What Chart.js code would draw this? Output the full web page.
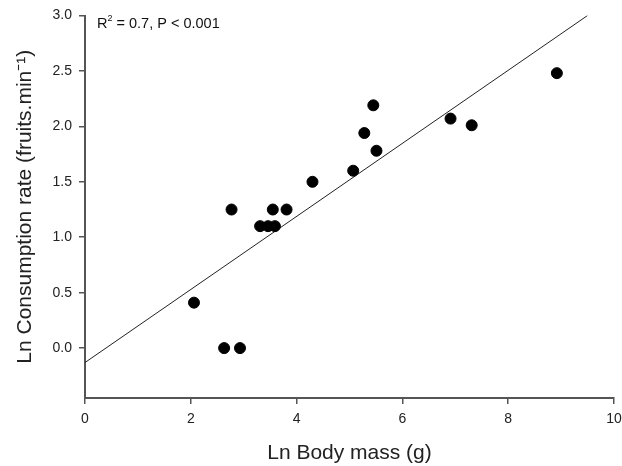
<!DOCTYPE html>
<html>
<head>
<meta charset="utf-8">
<script src="https://cdn.jsdelivr.net/npm/chart.js@4/dist/chart.umd.min.js"></script>
<style>
  html, body { margin: 0; padding: 0; background: #fff; }
  #wrap { width: 622px; height: 466px; }
</style>
</head>
<body>
<div id="wrap"><canvas id="scatterChart" width="622" height="466"></canvas></div>
<script>
// Ln body mass (g) vs Ln consumption rate (fruits/min)
const massX = [2.06, 2.63, 2.93, 2.77, 3.31, 3.46, 3.59, 3.55, 3.81, 4.30, 5.07, 5.28, 5.45, 5.51, 6.91, 7.31, 8.92];
const rateY = [0.41, 0.00, 0.00, 1.25, 1.10, 1.10, 1.10, 1.25, 1.25, 1.50, 1.60, 1.94, 2.19, 1.78, 2.07, 2.01, 2.48];

// regression line end points
const fitX = [0, 9.5];
const fitY = [-0.13, 3.0];

const xTicks = [0, 2, 4, 6, 8, 10];
const yTicks = [0, 0.5, 1.0, 1.5, 2.0, 2.5, 3.0];
const statsLabel = ['R', '2', ' = 0.7, P < 0.001'];

const FONT = '"Liberation Sans", Arial, sans-serif';

// draws the R^2 note in the top-left corner
const statsNote = {
    id: 'statsNote',
    afterDraw(chart) {
        const ctx = chart.ctx;
        const area = chart.chartArea;
        ctx.save();
        ctx.fillStyle = '#111';
        ctx.textBaseline = 'alphabetic';
        let x = area.left + 12;
        const y = area.top + 12;
        ctx.font = '14.5px ' + FONT;
        ctx.fillText(statsLabel[0], x, y);
        x += ctx.measureText(statsLabel[0]).width;
        ctx.font = '9px ' + FONT;
        ctx.fillText(statsLabel[1], x, y - 7);
        x += ctx.measureText(statsLabel[1]).width;
        ctx.font = '14.5px ' + FONT;
        ctx.fillText(statsLabel[2], x, y);
        ctx.restore();
    }
};

const ctx = document.getElementById('scatterChart').getContext('2d');
new Chart(ctx, {
    type: 'scatter',
    data: {
        datasets: [
            {
                label: 'Observed',
                data: massX.map((x, i) => ({ x: x, y: rateY[i] })),
                backgroundColor: '#000',
                borderColor: '#000',
                pointRadius: 5.5,
                pointHoverRadius: 5.5
            },
            {
                label: 'Fit',
                type: 'line',
                data: fitX.map((x, i) => ({ x: x, y: fitY[i] })),
                borderColor: '#222',
                borderWidth: 1,
                pointRadius: 0,
                fill: false
            }
        ]
    },
    options: {
        responsive: false,
        animation: false,
        layout: { padding: { left: 8, right: 8, top: 15.5, bottom: 0 } },
        plugins: {
            legend: { display: false },
            tooltip: { enabled: false }
        },
        scales: {
            x: {
                type: 'linear',
                min: 0,
                max: 10,
                afterBuildTicks: axis => { axis.ticks = xTicks.map(v => ({ value: v })); },
                afterFit: axis => { axis.height = 68; axis.paddingLeft = 0; axis.paddingRight = 0; },
                grid: { drawOnChartArea: false, drawTicks: true, tickLength: 6, color: '#555', lineWidth: 1.5 },
                border: { display: true, color: '#555', width: 2 },
                ticks: { color: '#222', font: { family: FONT, size: 14 }, padding: 7, maxRotation: 0 },
                title: { display: true, text: 'Ln Body mass (g)', color: '#222', font: { family: FONT, size: 21 }, padding: { top: 4, bottom: 0 } }
            },
            y: {
                type: 'linear',
                min: -0.45,
                max: 3.0,
                afterBuildTicks: axis => { axis.ticks = yTicks.map(v => ({ value: v })); },
                afterFit: axis => { axis.width = 77; axis.paddingTop = 0; axis.paddingBottom = 0; },
                grid: { drawOnChartArea: false, drawTicks: true, tickLength: 6, color: '#555', lineWidth: 1.5 },
                border: { display: true, color: '#555', width: 2 },
                ticks: { color: '#222', font: { family: FONT, size: 14 }, padding: 7, callback: v => v.toFixed(1) },
                title: { display: true, text: 'Ln Consumption rate (fruits.min\u207B\u00B9)', color: '#222', font: { family: FONT, size: 21 }, padding: 5 }
            }
        }
    },
    plugins: [statsNote]
});
</script>
</body>
</html>
